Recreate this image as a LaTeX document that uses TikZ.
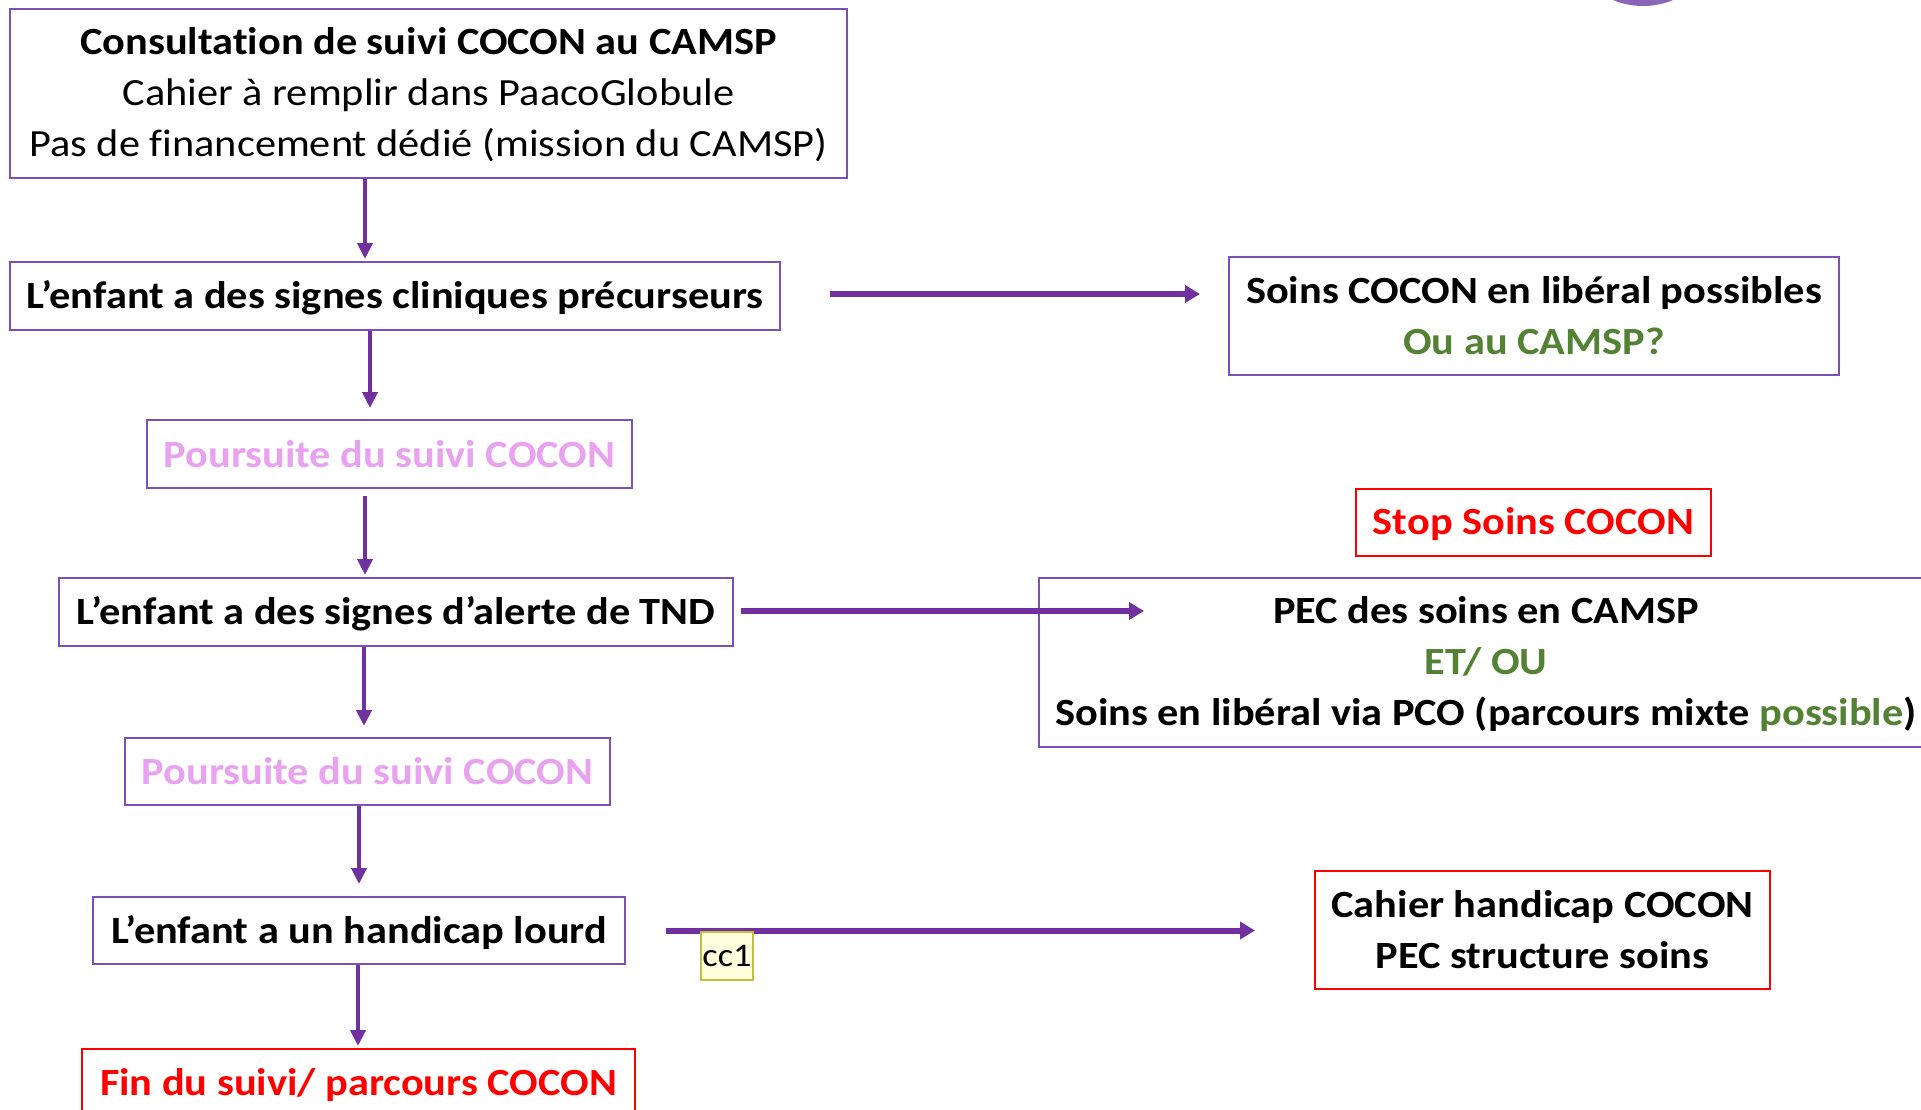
\documentclass[tikz,border=0pt]{standalone}
\usepackage{fontspec}
\setmainfont{Carlito}[FakeStretch=1.1, Ligatures=NoCommon]
\usetikzlibrary{arrows.meta}
\definecolor{arrowpurple}{HTML}{7030A0}
\definecolor{boxpurple}{HTML}{7F4FB8}
\definecolor{lightviolet}{HTML}{E8A2F0}
\definecolor{okgreen}{HTML}{548235}
\definecolor{circpurple}{HTML}{8A64B8}
\definecolor{notefill}{HTML}{FFFFDD}
\definecolor{noteline}{HTML}{BFBF40}
\begin{document}
\begin{tikzpicture}[x=1pt,y=-1pt,
  pbox/.style={draw=boxpurple, line width=2pt, inner sep=0pt, align=center,
    font=\fontsize{38.5}{51}\selectfont\bfseries},
  rbox/.style={draw=red, line width=2pt, inner sep=0pt, align=center,
    font=\fontsize{38.5}{51}\selectfont\bfseries},
  desc/.style={text depth=3pt},
  varr/.style={draw=arrowpurple, line width=4pt,
    -{Triangle[length=16pt,width=15pt]}},
  harr/.style={draw=arrowpurple, line width=6pt,
    -{Triangle[length=15pt,width=17pt]}},
  notebox/.style={draw=noteline, fill=notefill, line width=2pt, inner sep=0pt,
    font=\fontsize{33}{36}\selectfont}
]
\useasboundingbox (0,0) rectangle (1921,1109);
\clip (0,0) rectangle (1921,1109);
\fill[white] (0,0) rectangle (1921,1109);

% partial circle at the top
\fill[circpurple] (1643,-72) circle (78);

% left column
\node[pbox, desc, minimum width=837pt, minimum height=169pt] (b1) at (428.5,93.5)
  {Consultation de suivi COCON au CAMSP\\ \mdseries Cahier à remplir dans PaacoGlobule\\ \mdseries Pas de financement dédié (mission du CAMSP)};
\node[pbox, desc, minimum width=770pt, minimum height=68pt] (b2) at (395,296)
  {L’enfant a des signes cliniques précurseurs};
\node[pbox, minimum width=485pt, minimum height=68pt, text=lightviolet] (b3) at (389.5,454)
  {Poursuite du suivi COCON};
\node[pbox, desc, minimum width=674pt, minimum height=68pt] (b4) at (396,612)
  {L’enfant a des signes d’alerte de TND};
\node[pbox, minimum width=485pt, minimum height=67pt, text=lightviolet] (b5) at (367.5,771.5)
  {Poursuite du suivi COCON};
\node[pbox, desc, minimum width=532pt, minimum height=67pt] (b6) at (359,930.5)
  {L’enfant a un handicap lourd};
\node[rbox, desc, minimum width=553pt, minimum height=68pt, text=red] (b7) at (358.5,1083)
  {Fin du suivi/ parcours COCON};

% right column
\node[pbox, minimum width=610pt, minimum height=118pt] (r1) at (1534,316)
  {Soins COCON en libéral possibles\\ \textcolor{okgreen}{Ou au CAMSP?}};
\node[rbox, desc, minimum width=355pt, minimum height=67pt, text=red] (r2) at (1533.5,522.5)
  {Stop Soins COCON};
\node[pbox, desc, minimum width=894pt, minimum height=169pt] (r3) at (1486,662.5)
  {PEC des soins en CAMSP\\ \textcolor{okgreen}{ET/ OU}\\ Soins en libéral via PCO (parcours mixte \textcolor{okgreen}{possible})};
\node[rbox, minimum width=455pt, minimum height=118pt] (r4) at (1542.5,930)
  {Cahier handicap COCON\\ PEC structure soins};

% vertical arrows
\draw[varr] (b1.south -| 365,0) -- ([yshift=2pt]b2.north -| 365,0);
\draw[varr] (b2.south -| 370,0) -- ([yshift=11pt]b3.north -| 370,0);
\draw[varr] ([yshift=-7pt]b3.south -| 365,0) -- ([yshift=2pt]b4.north -| 365,0);
\draw[varr] (b4.south -| 364,0) -- ([yshift=11pt]b5.north -| 364,0);
\draw[varr] (b5.south -| 359,0) -- ([yshift=12pt]b6.north -| 359,0);
\draw[varr] (b6.south -| 358,0) -- ([yshift=2pt]b7.north -| 358,0);

% horizontal arrows
\draw[harr] ([xshift=49pt,yshift=2pt]b2.east) -- ([xshift=-28pt,yshift=2pt]b2.east -| r1.west);
\draw[harr] ([xshift=7pt,yshift=1pt]b4.east) -- ([xshift=106pt,yshift=1pt]b4.east -| r3.west);
\draw[harr] ([xshift=40pt]b6.east) -- ([xshift=-59pt]b6.east -| r4.west);

% comment marker
\node[notebox, minimum width=52pt, minimum height=48pt] (cc) at (727,956) {cc1};
\end{tikzpicture}
\end{document}
